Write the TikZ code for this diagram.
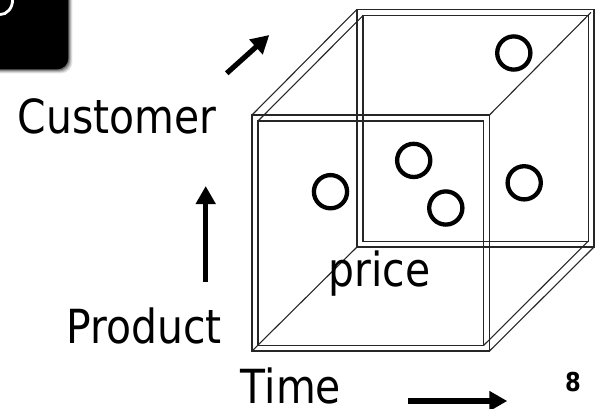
\documentclass[tikz,border=0pt]{standalone}
\usepackage{fontspec}
\usetikzlibrary{arrows.meta}
\newfontfamily\labelfont[FakeStretch=0.87]{DejaVu Sans}
\newfontfamily\labelfontbold[FakeStretch=0.87]{DejaVu Sans Bold}

\tikzset{
  edge/.style={line width=1.1pt, black!85},
  dot/.style={line width=4.3pt, black},
  bigarrow/.style={line width=5.2pt, -{Triangle[length=18pt,width=19pt]}},
  axislabel/.style={inner sep=0pt, anchor=base, font=\labelfont\fontsize{47}{56}\selectfont},
  pagenum/.style={inner sep=0pt, anchor=base, font=\labelfontbold\fontsize{26}{30}\selectfont},
}

\begin{document}
\begin{tikzpicture}[x=1pt, y=-1pt]
  \useasboundingbox (0,0) rectangle (605,408);
  \clip (0,0) rectangle (605,408);

  % corner button with soft shadow
  \foreach \o/\a in {4/0.10, 3/0.15, 2/0.22, 1/0.30}
    \fill[black, opacity=\a, rounded corners=11pt] (-20+\o,-20+\o) rectangle (68.3+\o,69.3+\o);
  \fill[black, rounded corners=11pt] (-20,-20) rectangle (68.3,69.3);
  \draw[white, line width=2.8pt] (12.6,0) arc[start angle=0, end angle=90, x radius=12.6, y radius=14.6];

  % cube: outer frame
  \coordinate (oA) at (252,115);   \coordinate (oB) at (489.5,115);
  \coordinate (oC) at (489.5,351); \coordinate (oD) at (252,351);
  \coordinate (oE) at (357,9.3);   \coordinate (oF) at (594,9.3);
  \coordinate (oG) at (594,247);   \coordinate (oH) at (357,247);
  % cube: inner frame
  \coordinate (iA) at (258,121);   \coordinate (iB) at (483.5,121);
  \coordinate (iC) at (483.5,345.5); \coordinate (iD) at (258,345.5);
  \coordinate (iE) at (363,15.6);  \coordinate (iF) at (588.2,15.6);
  \coordinate (iG) at (588.2,241.2); \coordinate (iH) at (363,241.2);

  \draw[edge] (oA) -- (oB) -- (oC) -- (oD) -- cycle;
  \draw[edge] (iA) -- (iB) -- (iC) -- (iD) -- cycle;
  \draw[edge] (oE) -- (oF) -- (oG) -- (oH) -- cycle;
  \draw[edge] (iE) -- (iF) -- (iG) -- (iH) -- cycle;
  \draw[edge] (oA) -- (oE);
  \draw[edge] (iA) -- (iE);
  \draw[edge] (oC) -- (oG);
  \draw[edge] (iC) -- (iG);
  \draw[edge] (oB) -- (591,12.4);
  \draw[edge] (oD) -- (oH);

  % data points
  \draw[dot] (513.8,53)   circle[radius=16.6];
  \draw[dot] (330.5,191.7) circle[radius=16.6];
  \draw[dot] (413.7,160.4) circle[radius=16.6];
  \draw[dot] (445.8,208)  circle[radius=16.6];
  \draw[dot] (524.2,182.8) circle[radius=16.6];

  % dimension labels
  \node[axislabel] (customer) at (117,133) {Customer};
  \node[axislabel] (product)  at (144,343.3) {Product};
  \node[axislabel] (time)     at (291,403) {Time};
  \node[axislabel] (price)    at (379.5,286.7) {price};
  \node[pagenum]   (page)     at (573,391) {8};

  % dimension arrows
  \coordinate (custTail) at (226.7,73.3);
  \coordinate (custTip)  at (269.3,35);
  \coordinate (prodTail) at (205.7,281.7);
  \coordinate (prodTip)  at (205.7,186);
  \coordinate (timeTail) at (408.3,401);
  \coordinate (timeTip)  at (507.3,401);
  \draw[bigarrow] (custTail) -- (custTip);
  \draw[bigarrow] (prodTail) -- (prodTip);
  \draw[bigarrow] (timeTail) -- (timeTip);
\end{tikzpicture}
\end{document}
